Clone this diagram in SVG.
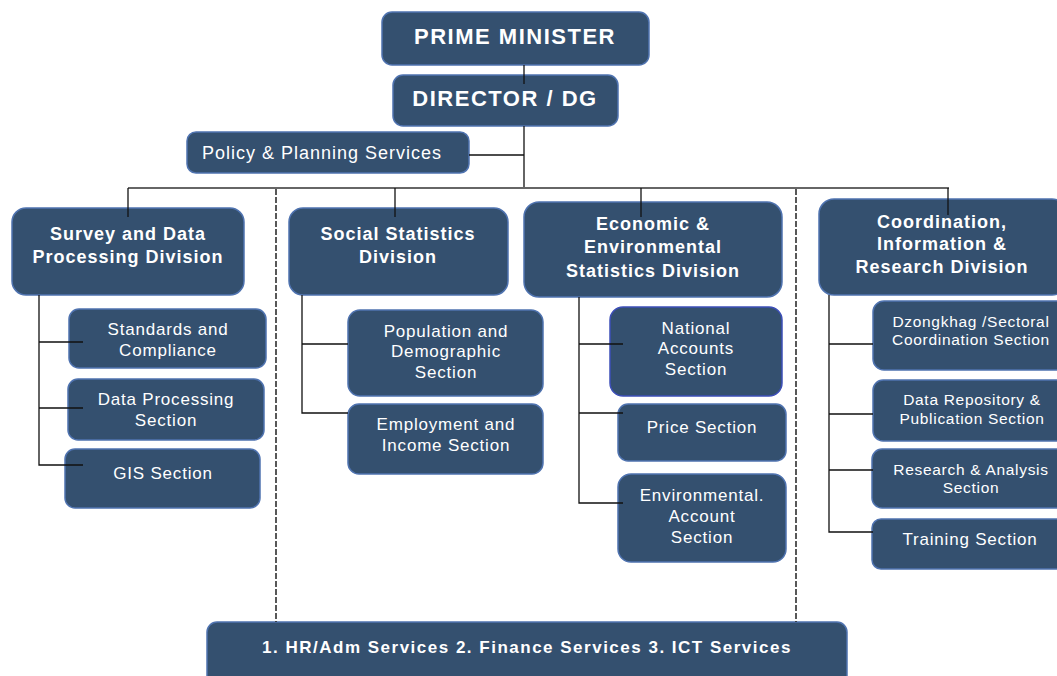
<svg xmlns="http://www.w3.org/2000/svg" width="1057" height="676" viewBox="0 0 1057 676">
<style>
.box{fill:#34506f;stroke:#4f73b0;stroke-width:1.5}
.t{fill:#ffffff;font-family:"Liberation Sans",Arial,sans-serif;text-anchor:middle}
.top{font-size:22px;font-weight:bold;letter-spacing:1.5px}
.div{font-size:18px;font-weight:bold;letter-spacing:1px}
.sec{font-size:17px;letter-spacing:0.8px}
.sm{font-size:15.5px;letter-spacing:0.7px}
.bot{font-size:17px;font-weight:bold;letter-spacing:1.5px}
.ln{stroke:#111;stroke-width:1.3;fill:none}
.main{stroke:#666;stroke-width:2;fill:none}
.dash{stroke:#222;stroke-width:1.5;stroke-dasharray:6 2;fill:none}
</style>
<rect width="1057" height="676" fill="#ffffff"/>
<g id="pm"><rect class="box" x="382" y="12" width="267" height="53" rx="10"/><text class="t top" x="515" y="44">PRIME MINISTER</text></g>
<g id="director"><rect class="box" x="393" y="75" width="225" height="51" rx="10"/><text class="t top" x="505" y="106">DIRECTOR / DG</text></g>
<g id="policy"><rect class="box" x="187" y="132" width="282" height="41" rx="9"/><text class="t" style="font-size:18px;letter-spacing:1px" x="322" y="159">Policy &amp; Planning Services</text></g>

<g id="survey"><rect class="box" x="12" y="208" width="232" height="87" rx="14"/><text class="t div" x="128" y="240">Survey and Data</text><text class="t div" x="128" y="263">Processing Division</text></g>
<g id="standards"><rect class="box" x="69" y="309" width="197" height="59" rx="10"/><text class="t sec" x="168" y="335">Standards and</text><text class="t sec" x="168" y="356">Compliance</text></g>
<g id="dataproc"><rect class="box" x="68" y="379" width="196" height="61" rx="10"/><text class="t sec" x="166" y="405">Data Processing</text><text class="t sec" x="166" y="426">Section</text></g>
<g id="gis"><rect class="box" x="65" y="449" width="195" height="59" rx="10"/><text class="t sec" x="163" y="479">GIS Section</text></g>

<g id="social"><rect class="box" x="289" y="208" width="219" height="87" rx="14"/><text class="t div" x="398" y="240">Social Statistics</text><text class="t div" x="398" y="263">Division</text></g>
<g id="population"><rect class="box" x="348" y="310" width="195" height="86" rx="12"/><text class="t sec" x="446" y="337">Population and</text><text class="t sec" x="446" y="357">Demographic</text><text class="t sec" x="446" y="378">Section</text></g>
<g id="employment"><rect class="box" x="348" y="404" width="195" height="70" rx="11"/><text class="t sec" x="446" y="430">Employment and</text><text class="t sec" x="446" y="451">Income Section</text></g>

<g id="economic"><rect class="box" x="524" y="202" width="258" height="95" rx="15"/><text class="t div" x="653" y="230">Economic &amp;</text><text class="t div" x="653" y="253">Environmental</text><text class="t div" x="653" y="277">Statistics Division</text></g>
<g id="national"><rect class="box" x="610" y="307" width="172" height="89" rx="13" style="stroke:#3d4fb8"/><text class="t sec" x="696" y="334">National</text><text class="t sec" x="696" y="354">Accounts</text><text class="t sec" x="696" y="375">Section</text></g>
<g id="price"><rect class="box" x="618" y="404" width="168" height="57" rx="10"/><text class="t sec" x="702" y="433">Price Section</text></g>
<g id="environmental"><rect class="box" x="618" y="474" width="168" height="88" rx="13"/><text class="t sec" x="702" y="501">Environmental.</text><text class="t sec" x="702" y="522">Account</text><text class="t sec" x="702" y="543">Section</text></g>

<g id="coordination"><rect class="box" x="819" y="199" width="248" height="96" rx="15"/><text class="t div" x="942" y="228">Coordination,</text><text class="t div" x="942" y="250">Information &amp;</text><text class="t div" x="942" y="273">Research Division</text></g>
<g id="dzongkhag"><rect class="box" x="873" y="301" width="194" height="69" rx="11"/><text class="t sm" x="971" y="327">Dzongkhag /Sectoral</text><text class="t sm" x="971" y="345">Coordination Section</text></g>
<g id="repository"><rect class="box" x="873" y="380" width="194" height="61" rx="10"/><text class="t sm" x="972" y="405">Data Repository &amp;</text><text class="t sm" x="972" y="424">Publication Section</text></g>
<g id="research"><rect class="box" x="872" y="449" width="195" height="59" rx="10"/><text class="t sm" x="971" y="475">Research &amp; Analysis</text><text class="t sm" x="971" y="493">Section</text></g>
<g id="training"><rect class="box" x="872" y="519" width="195" height="50" rx="9"/><text class="t sec" x="970" y="545">Training Section</text></g>

<g id="support"><rect class="box" x="207" y="622" width="640" height="64" rx="10"/><text class="t bot" x="527" y="653">1. HR/Adm Services 2. Finance Services  3. ICT Services</text></g>

<g id="connectors">
<line class="ln" x1="524" y1="65" x2="524" y2="84"/>
<line class="ln" x1="524" y1="126" x2="524" y2="188"/>
<line class="ln" x1="469" y1="155" x2="524" y2="155"/>
<line class="main" x1="128" y1="188" x2="949" y2="188"/>
<line class="ln" x1="128" y1="188" x2="128" y2="217"/>
<line class="ln" x1="395" y1="188" x2="395" y2="217"/>
<line class="ln" x1="641" y1="188" x2="641" y2="217"/>
<line class="ln" x1="948" y1="188" x2="948" y2="215"/>
<line class="dash" x1="276" y1="189" x2="276" y2="622"/>
<line class="dash" x1="796" y1="189" x2="796" y2="622"/>
<path class="ln" d="M39 295V465H83M39 342H83M39 408H83"/>
<path class="ln" d="M302 295V413H348M302 344H348"/>
<path class="ln" d="M579 297V503H623M579 344H623M579 413H623"/>
<path class="ln" d="M829 295V532H873M829 344H873M829 414H873M829 470H873"/>
</g>
</svg>
